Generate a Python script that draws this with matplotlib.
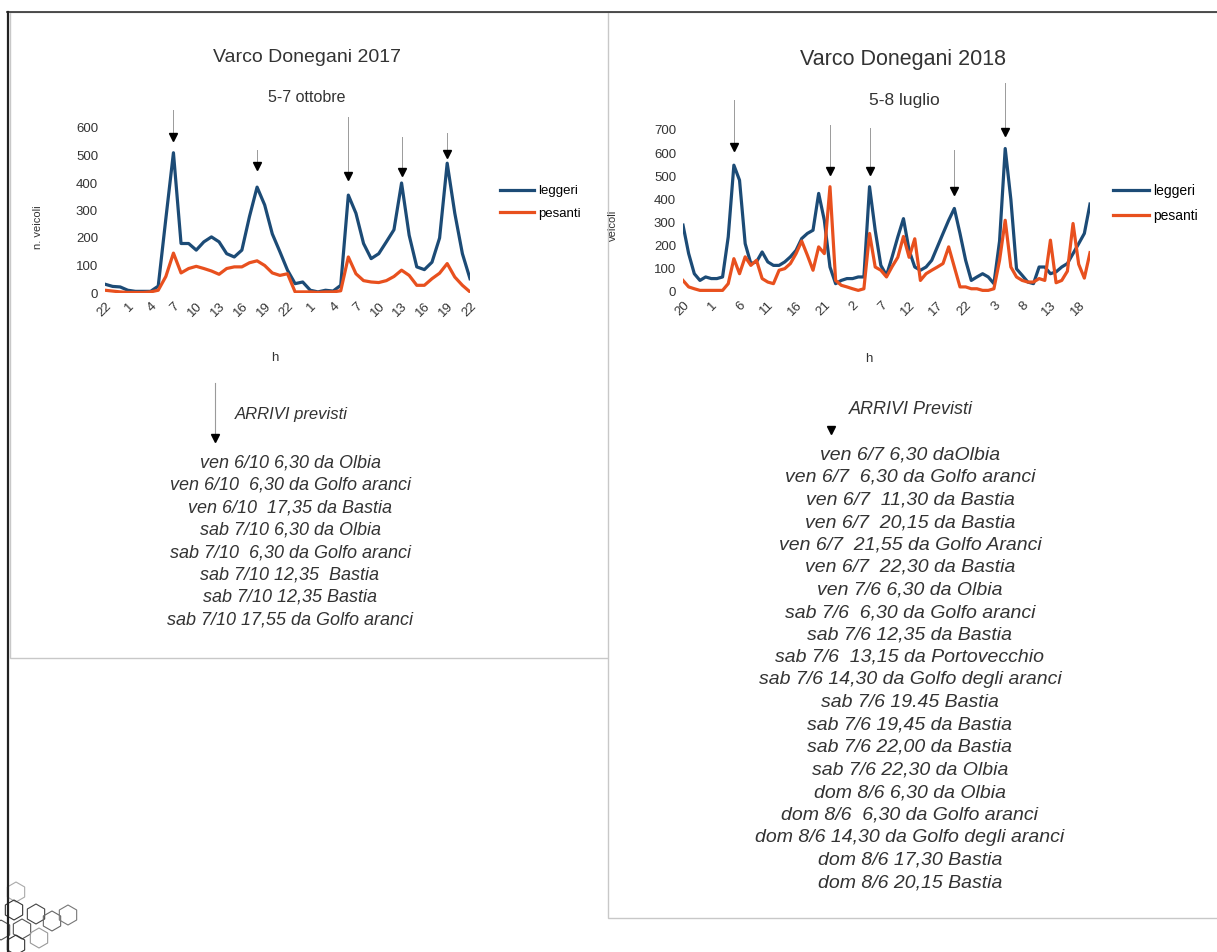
# Varco Donegani 2017 / 2018 - traffico orario leggeri / pesanti
import matplotlib.pyplot as plt
from matplotlib.patches import Rectangle, RegularPolygon
from matplotlib.lines import Line2D

plt.rcParams['font.family'] = ['Liberation Sans', 'DejaVu Sans']

# ---- dati 2017 (5-7 ottobre), un valore per ora ----
ore_2017 = ['22', '1', '4', '7', '10', '13', '16', '19', '22', '1', '4', '7', '10', '13', '16', '19', '22']
leggeri_2017 = [32, 24, 22, 10, 6, 6, 6, 25, 270, 510, 180, 180, 156, 186, 204, 186,
                143, 131, 156, 278, 385, 320, 215, 150, 83, 34, 40, 10, 4, 10, 7, 28,
                356, 290, 180, 125, 143, 186, 230, 400, 210, 95, 85, 112, 200, 472, 290, 143, 52]
pesanti_2017 = [10, 7, 4, 2, 2, 2, 4, 10, 60, 145, 73, 89, 97, 89, 80, 68,
                89, 95, 95, 110, 117, 100, 73, 64, 70, 4, 4, 4, 2, 4, 4, 8,
                131, 70, 45, 40, 38, 45, 60, 83, 64, 28, 28, 52, 72, 107, 58, 28, 4]
frecce_2017 = [9, 20, 32, 39, 45]
punta_2017 = [567, 462, 425, 440, 505]
coda_2017 = [665, 520, 640, 567, 582]

# ---- dati 2018 (5-8 luglio), un valore per ora ----
ore_2018 = ['20', '1', '6', '11', '16', '21', '2', '7', '12', '17', '22', '3', '8', '13', '18']
leggeri_2018 = [289, 166, 79, 50, 65, 58, 58, 65, 238, 548, 483, 209, 123, 130, 173, 130,
                115, 115, 130, 152, 180, 231, 253, 267, 426, 310, 108, 36, 50, 58, 58, 65,
                65, 455, 267, 115, 72, 152, 238, 317, 180, 108, 94, 108, 137, 195, 253, 310,
                361, 253, 137, 50, 65, 79, 65, 36, 220, 620, 400, 100, 72, 43, 36, 108,
                108, 79, 87, 108, 123, 166, 209, 253, 380]
pesanti_2018 = [50, 22, 14, 7, 7, 7, 7, 7, 36, 144, 79, 152, 115, 137, 58, 43,
                36, 94, 101, 123, 166, 220, 159, 94, 195, 166, 455, 50, 29, 22, 14, 7,
                14, 253, 108, 94, 65, 110, 150, 240, 150, 230, 50, 79, 94, 108, 123, 195,
                108, 22, 22, 14, 14, 7, 7, 14, 137, 310, 108, 65, 50, 43, 43, 58,
                50, 224, 40, 50, 90, 296, 120, 60, 170]
frecce_2018 = [9, 26, 33, 48, 57]
punta_2018 = [627, 523, 523, 436, 691]
coda_2018 = [830, 722, 709, 614, 903]

arrivi_2017 = ['ven 6/10 6,30 da Olbia', 'ven 6/10  6,30 da Golfo aranci',
               'ven 6/10  17,35 da Bastia', 'sab 7/10 6,30 da Olbia',
               'sab 7/10  6,30 da Golfo aranci', 'sab 7/10 12,35  Bastia',
               'sab 7/10 12,35 Bastia', 'sab 7/10 17,55 da Golfo aranci']
arrivi_2018 = ['ven 6/7 6,30 daOlbia', 'ven 6/7  6,30 da Golfo aranci',
               'ven 6/7  11,30 da Bastia', 'ven 6/7  20,15 da Bastia',
               'ven 6/7  21,55 da Golfo Aranci', 'ven 6/7  22,30 da Bastia',
               'ven 7/6 6,30 da Olbia', 'sab 7/6  6,30 da Golfo aranci',
               'sab 7/6 12,35 da Bastia', 'sab 7/6  13,15 da Portovecchio',
               'sab 7/6 14,30 da Golfo degli aranci', 'sab 7/6 19.45 Bastia',
               'sab 7/6 19,45 da Bastia', 'sab 7/6 22,00 da Bastia',
               'sab 7/6 22,30 da Olbia', 'dom 8/6 6,30 da Olbia',
               'dom 8/6  6,30 da Golfo aranci', 'dom 8/6 14,30 da Golfo degli aranci',
               'dom 8/6 17,30 Bastia', 'dom 8/6 20,15 Bastia']

BLU = '#1c4b76'
ROSSO = '#e8501e'
TESTO = '#333333'

W, H = 1217, 952
fig = plt.figure(figsize=(W / 100, H / 100), dpi=100)


def fx(x):
    return x / W


def fy(y):
    return 1 - y / H


# cornici delle due slide (sotto i grafici)
fig.patches.append(Rectangle((fx(10), fy(658)), fx(602), (658 - 12) / H, transform=fig.transFigure,
                             facecolor='white', edgecolor='#c8c8c8', lw=1.0, zorder=-2))
fig.patches.append(Rectangle((fx(608), fy(918)), fx(620), (918 - 12) / H, transform=fig.transFigure,
                             facecolor='white', edgecolor='#c8c8c8', lw=1.0, zorder=-1))
fig.lines.append(Line2D([fx(7), fx(1217)], [fy(12), fy(12)], transform=fig.transFigure, color='#333333', lw=1.2))
fig.lines.append(Line2D([fx(8), fx(8)], [fy(12), fy(952)], transform=fig.transFigure, color='#222222', lw=1.6))

# esagoni decorativi in basso a sinistra (coordinate in pollici)
esagoni = [(16, 892, '#aaaaaa'), (14, 910, '#333333'), (36, 914, '#444444'), (52, 921, '#666666'),
           (68, 915, '#777777'), (22, 929, '#555555'), (39, 938, '#999999'), (16, 945, '#333333'),
           (1, 930, '#555555')]
for cx, cy, col in esagoni:
    fig.patches.append(RegularPolygon((cx / 100, (H - cy) / 100), 6, radius=0.10,
                                      transform=fig.dpi_scale_trans, facecolor='none',
                                      edgecolor=col, lw=0.8))


def grafico(ax, ore, passo, leggeri, pesanti, ymax, ylab, ylab_pos, xlab_pos,
            frecce, punta, coda, leg_pos, fs, fs_leg):
    x = list(range(len(leggeri)))
    ax.plot(x, leggeri, color=BLU, lw=2.3, label='leggeri')
    ax.plot(x, pesanti, color=ROSSO, lw=2.3, label='pesanti')
    ax.set_xlim(0, len(leggeri) - 1)
    ax.set_ylim(0, ymax)
    ax.set_yticks(range(0, ymax + 1, 100))
    ax.set_xticks(range(0, passo * len(ore), passo))
    ax.set_xticklabels(ore, rotation=45, ha='right', rotation_mode='anchor')
    ax.tick_params(length=0, labelsize=fs, colors=TESTO, pad=5)
    ax.patch.set_alpha(0)
    for s in ax.spines.values():
        s.set_visible(False)
    ax.set_xlabel('h', fontsize=fs, color=TESTO)
    ax.xaxis.set_label_coords(*xlab_pos)
    ax.set_ylabel(ylab, fontsize=fs - 1.5, color=TESTO)
    ax.yaxis.set_label_coords(*ylab_pos)
    for i, p, c in zip(frecce, punta, coda):
        ax.plot([i, i], [p, c], color='#9a9a9a', lw=0.7, clip_on=False)
        ax.plot([i], [p], marker='v', color='black', ms=6, clip_on=False)
    ax.legend(loc='center left', bbox_to_anchor=leg_pos, frameon=False, fontsize=fs_leg,
              handlelength=2.6, handletextpad=0.3, labelspacing=0.8, borderpad=0, borderaxespad=0)


ax1 = fig.add_axes([fx(105), fy(293), (470 - 105) / W, (293 - 128) / H])
grafico(ax1, ore_2017, 3, leggeri_2017, pesanti_2017, 600, 'n. veicoli', (-0.17, 0.40), (0.466, -0.36),
        frecce_2017, punta_2017, coda_2017, (1.082, 0.548), 9.5, 9.5)

ax2 = fig.add_axes([fx(683), fy(292), (1090 - 683) / W, (292 - 130) / H])
grafico(ax2, ore_2018, 5, leggeri_2018, pesanti_2018, 700, 'veicoli', (-0.16, 0.41), (0.457, -0.377),
        frecce_2018, punta_2018, coda_2018, (1.057, 0.546), 9.5, 10)

# titoli
fig.text(fx(307), fy(57), 'Varco Donegani 2017', ha='center', va='center', fontsize=14, color=TESTO)
fig.text(fx(307), fy(97), '5-7 ottobre', ha='center', va='center', fontsize=11.5, color=TESTO)
fig.text(fx(903), fy(60), 'Varco Donegani 2018', ha='center', va='center', fontsize=15.5, color=TESTO)
fig.text(fx(904), fy(100), '5-8 luglio', ha='center', va='center', fontsize=12.5, color=TESTO)

# arrivi previsti 2017
fig.text(fx(291), fy(415), 'ARRIVI previsti', ha='center', va='center', fontsize=12, style='italic', color=TESTO)
fig.lines.append(Line2D([fx(215), fx(215)], [fy(383), fy(436)], transform=fig.transFigure, color='#9a9a9a', lw=0.8))
fig.lines.append(Line2D([fx(215)], [fy(438)], transform=fig.transFigure, marker='v', color='black', ms=6))
for k, riga in enumerate(arrivi_2017):
    fig.text(fx(290), fy(463 + 22.4 * k), riga, ha='center', va='center', fontsize=13,
             style='italic', color=TESTO)

# arrivi previsti 2018
fig.text(fx(911), fy(410), 'ARRIVI Previsti', ha='center', va='center', fontsize=13, style='italic', color=TESTO)
fig.lines.append(Line2D([fx(831)], [fy(430)], transform=fig.transFigure, marker='v', color='black', ms=6))
for k, riga in enumerate(arrivi_2018):
    fig.text(fx(910), fy(455 + 22.5 * k), riga, ha='center', va='center', fontsize=14,
             style='italic', color=TESTO)

fig.savefig('out.png', dpi=100)
